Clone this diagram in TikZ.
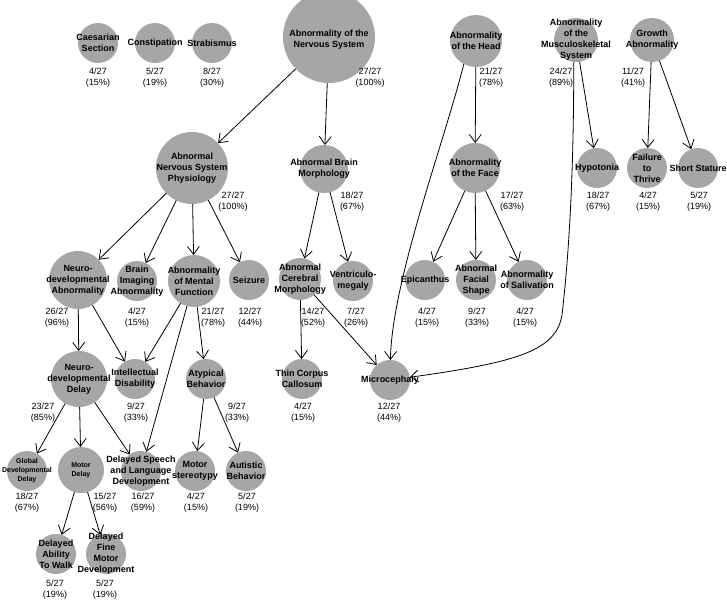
\documentclass[tikz,border=0pt]{standalone}
\usepackage{fontspec}
\setmainfont{Liberation Sans}
\usepackage{tikz}
\usetikzlibrary{arrows.meta}
\definecolor{blobfill}{HTML}{A6A6A6}
\tikzset{
  blob/.style={circle, fill=blobfill, inner sep=0pt, outer sep=0pt, minimum size=#1},
  txt/.style={font=\bfseries\fontsize{9}{11}\selectfont, align=center, inner sep=0pt},
  txts/.style={font=\bfseries\fontsize{7}{9}\selectfont, align=center, inner sep=0pt},
  cnt/.style={font=\fontsize{9}{11}\selectfont, align=center, inner sep=0pt},
  arr/.style={draw=black, line width=0.8pt, -{Straight Barb[length=8pt,width=12pt]}},
}

\begin{document}
\begin{tikzpicture}[x=1pt,y=1pt]
  \useasboundingbox (0,-600) rectangle (727,0);

  % loose terms, top left
  \node[blob=40pt,label={[txt]center:Caesarian\\Section}] (caes) at (98,-43) {};
  \node[cnt] (caesN) at (98,-78) {4/27\\(15\%)};
  \node[blob=40pt,label={[txt]center:Constipation}] (const) at (155,-43) {};
  \node[cnt] (constN) at (155,-78) {5/27\\(19\%)};
  \node[blob=40pt,label={[txt]center:Strabismus}] (strab) at (212,-43) {};
  \node[cnt] (strabN) at (212,-78) {8/27\\(30\%)};

  % top row
  \node[blob=92pt,label={[txt,yshift=-3pt]center:Abnormality of the\\Nervous System}] (nerv) at (329,-37) {};
  \node[cnt] (nervN) at (370,-78) {27/27\\(100\%)};
  \node[blob=52pt,label={[txt]center:Abnormality\\of the Head}] (head) at (476,-41) {};
  \node[cnt] (headN) at (491,-78) {21/27\\(78\%)};
  \node[blob=44pt,label={[txt]center:Abnormality\\of the\\Musculoskeletal\\System}] (musc) at (576,-40) {};
  \node[cnt] (muscN) at (561,-78) {24/27\\(89\%)};
  \node[blob=44pt,label={[txt]center:Growth\\Abnormality}] (growth) at (652,-40) {};
  \node[cnt] (growthN) at (633,-78) {11/27\\(41\%)};

  % second row
  \node[blob=72pt,label={[txt]center:Abnormal\\Nervous System\\Physiology}] (phys) at (192,-168) {};
  \node[cnt] (physN) at (233,-202) {27/27\\(100\%)};
  \node[blob=48pt,label={[txt]center:Abnormal Brain\\Morphology}] (bmorph) at (324,-169) {};
  \node[cnt] (bmorphN) at (352,-202) {18/27\\(67\%)};
  \node[blob=50pt,label={[txt]center:Abnormality\\of the Face}] (face) at (475,-168) {};
  \node[cnt] (faceN) at (512,-202) {17/27\\(63\%)};
  \node[blob=40pt,label={[txt]center:Hypotonia}] (hypo) at (597,-168) {};
  \node[cnt] (hypoN) at (598,-202) {18/27\\(67\%)};
  \node[blob=40pt,label={[txt]center:Failure\\to\\Thrive}] (fail) at (647,-168) {};
  \node[cnt] (failN) at (648,-202) {4/27\\(15\%)};
  \node[blob=40pt,label={[txt]center:Short Stature}] (short) at (698,-168) {};
  \node[cnt] (shortN) at (699,-202) {5/27\\(19\%)};

  % third row
  \node[blob=58pt,label={[txt]center:Neuro-\\developmental\\Abnormality}] (ndabn) at (78,-280) {};
  \node[cnt] (ndabnN) at (57,-318) {26/27\\(96\%)};
  \node[blob=40pt,label={[txt]center:Brain\\Imaging\\Abnormality}] (imag) at (137,-281) {};
  \node[cnt] (imagN) at (137,-318) {4/27\\(15\%)};
  \node[blob=52pt,label={[txt]center:Abnormality\\of Mental\\Function}] (mental) at (194,-281) {};
  \node[cnt] (mentalN) at (213,-318) {21/27\\(78\%)};
  \node[blob=40pt,label={[txt]center:Seizure}] (seiz) at (249,-280) {};
  \node[cnt] (seizN) at (250,-318) {12/27\\(44\%)};
  \node[blob=42pt,label={[txt]center:Abnormal\\Cerebral\\Morphology}] (cereb) at (300,-279) {};
  \node[cnt] (cerebN) at (313,-318) {14/27\\(52\%)};
  \node[blob=40pt,label={[txt]center:Ventriculo-\\megaly}] (ventr) at (353,-281) {};
  \node[cnt] (ventrN) at (356,-318) {7/27\\(26\%)};
  \node[blob=40pt,label={[txt]center:Epicanthus}] (epic) at (425,-280) {};
  \node[cnt] (epicN) at (427,-318) {4/27\\(15\%)};
  \node[blob=40pt,label={[txt]center:Abnormal\\Facial\\Shape}] (facial) at (476,-280) {};
  \node[cnt] (facialN) at (477,-318) {9/27\\(33\%)};
  \node[blob=40pt,label={[txt]center:Abnormality\\of Salivation}] (saliv) at (527,-280) {};
  \node[cnt] (salivN) at (525,-318) {4/27\\(15\%)};

  % fourth row
  \node[blob=56pt,label={[txt]center:Neuro-\\developmental\\Delay}] (nddelay) at (79,-379) {};
  \node[cnt] (nddelayN) at (43,-413) {23/27\\(85\%)};
  \node[blob=40pt,label={[txt]center:Intellectual\\Disability}] (intel) at (135,-379) {};
  \node[cnt] (intelN) at (136,-413) {9/27\\(33\%)};
  \node[blob=40pt,label={[txt]center:Atypical\\Behavior}] (atyp) at (206,-379) {};
  \node[cnt] (atypN) at (237,-413) {9/27\\(33\%)};
  \node[blob=40pt,label={[txt]center:Thin Corpus\\Callosum}] (thin) at (302,-379) {};
  \node[cnt] (thinN) at (303,-413) {4/27\\(15\%)};
  \node[blob=40pt,label={[txt]center:Microcephaly}] (micro) at (390,-380) {};
  \node[cnt] (microN) at (389,-413) {12/27\\(44\%)};

  % fifth row
  \node[blob=40pt,label={[txts]center:Global\\Developmental\\Delay}] (global) at (27,-471) {};
  \node[cnt] (globalN) at (27,-503) {18/27\\(67\%)};
  \node[blob=46pt,label={[txts]center:Motor\\Delay}] (motor) at (81,-470) {};
  \node[cnt] (motorN) at (105,-503) {15/27\\(56\%)};
  \node[blob=40pt,label={[txt]center:Delayed Speech\\and Language\\Development}] (speech) at (141,-471) {};
  \node[cnt] (speechN) at (143,-503) {16/27\\(59\%)};
  \node[blob=40pt,label={[txt]center:Motor\\stereotypy}] (stereo) at (195,-471) {};
  \node[cnt] (stereoN) at (196,-503) {4/27\\(15\%)};
  \node[blob=40pt,label={[txt]center:Autistic\\Behavior}] (autis) at (246,-471) {};
  \node[cnt] (autisN) at (247,-503) {5/27\\(19\%)};

  % bottom row
  \node[blob=40pt,label={[txt]center:Delayed\\Ability\\To Walk}] (walk) at (56,-554) {};
  \node[cnt] (walkN) at (55,-590) {5/27\\(19\%)};
  \node[blob=40pt,label={[txt]center:Delayed\\Fine\\Motor\\Development}] (fine) at (106,-554) {};
  \node[cnt] (fineN) at (105,-590) {5/27\\(19\%)};

  % edges
  \draw[arr] (nerv) -- (phys);
  \draw[arr] (nerv) -- (bmorph);
  \draw[arr] (head) -- (face);
  \draw[arr] (head.-118) .. controls (445,-140) and (392,-280) .. (micro);
  \draw[arr] (musc) -- (hypo);
  \draw[arr] (musc.-96) .. controls (574,-200) and (566,-280) .. (562,-315)
                        .. controls (556,-350) and (520,-362) .. (micro);
  \draw[arr] (growth) -- (fail);
  \draw[arr] (growth) -- (short);

  \draw[arr] (phys) -- (ndabn);
  \draw[arr] (phys) -- (imag);
  \draw[arr] (phys) -- (mental);
  \draw[arr] (phys) -- (seiz);
  \draw[arr] (bmorph) -- (cereb);
  \draw[arr] (bmorph) -- (ventr);
  \draw[arr] (face) -- (epic);
  \draw[arr] (face) -- (facial);
  \draw[arr] (face) -- (saliv);

  \draw[arr] (ndabn) -- (nddelay);
  \draw[arr] (ndabn) -- (intel);
  \draw[arr] (mental) -- (intel);
  \draw[arr] (mental) -- (speech);
  \draw[arr] (mental) -- (atyp);
  \draw[arr] (cereb) -- (thin);
  \draw[arr] (cereb) -- (micro);

  \draw[arr] (nddelay) -- (global);
  \draw[arr] (nddelay) -- (motor);
  \draw[arr] (nddelay) -- (speech);
  \draw[arr] (atyp) -- (stereo);
  \draw[arr] (atyp) -- (autis);
  \draw[arr] (motor) -- (walk);
  \draw[arr] (motor) -- (fine);
\end{tikzpicture}
\end{document}
